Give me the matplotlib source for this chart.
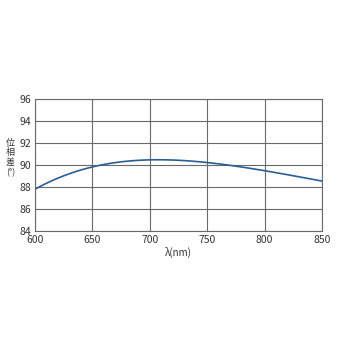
import matplotlib
matplotlib.use("Agg")
import matplotlib.pyplot as plt
import numpy as np

wavelength = [600, 625, 650, 675, 700, 725, 750, 775, 800, 825, 850]
retardation = [87.8, 89.0, 89.85, 90.3, 90.45, 90.42, 90.24, 89.9, 89.5, 89.0, 88.55]
x_ticks = [600, 650, 700, 750, 800, 850]
y_ticks = [84, 86, 88, 90, 92, 94, 96]
ylabel_parts = ['位', '相', '差', '(°)']

plt.rcParams['font.family'] = ['Noto Sans CJK JP', 'DejaVu Sans']

fig = plt.figure(figsize=(3.5, 3.5), dpi=100)
ax = fig.add_axes([0.1, 0.34, 0.82, 0.377])

xs = np.linspace(600, 850, 200)
coef = np.polyfit(wavelength, retardation, 4)
ax.plot(xs, np.polyval(coef, xs), color='#2b5d96', lw=1.2)

ax.set_xlim(600, 850)
ax.set_ylim(84, 96)
ax.set_xticks(x_ticks)
ax.set_yticks(y_ticks)
ax.grid(True, color='#6a6a6a', lw=0.8)
ax.tick_params(length=0, labelsize=7.5, colors='#333333', pad=3)
for s in ax.spines.values():
    s.set_color('#6a6a6a')
    s.set_linewidth(0.8)

ax.set_xlabel('λ(nm)', fontsize=7, color='#333333', labelpad=1)
y0 = 1 - 143 / 350
for i, part in enumerate(ylabel_parts):
    fig.text(0.03, y0 - i * 0.028, part, fontsize=6.5, color='#333333',
             ha='center', va='center', rotation=0)

fig.savefig('out.png', dpi=100)
